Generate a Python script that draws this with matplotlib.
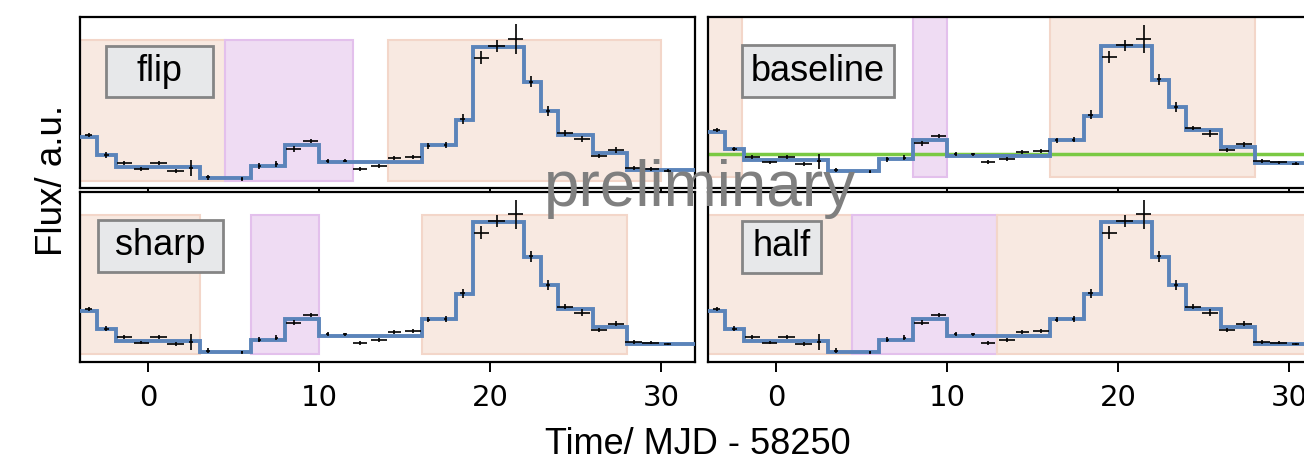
import numpy as np
import matplotlib
matplotlib.use('Agg')
import matplotlib.pyplot as plt
from matplotlib.patches import Rectangle

# light curve (days since MJD 58250, arbitrary flux units)
t_days = [-3.5, -2.45, -1.4, -0.4, 0.6, 1.6, 2.5, 3.5, 5.5, 6.5, 7.5, 8.5,
          9.5, 10.5, 11.5, 12.4, 13.5, 14.4, 15.5, 16.4, 17.4, 18.4, 19.5,
          20.4, 21.5, 22.4, 23.4, 24.4, 25.4, 26.4, 27.4, 28.4, 29.4, 30.4]
flux = [3.10, 1.93, 1.44, 1.11, 1.46, 1.01, 1.17, 0.63, 0.53, 1.29, 1.40, 2.28,
        2.75, 1.60, 1.60, 1.11, 1.29, 1.75, 1.81, 2.46, 2.51, 4.04, 7.62,
        8.32, 8.71, 6.22, 4.50, 3.22, 2.87, 1.87, 2.22, 1.17, 1.11, 1.02]
flux_err = [0.12, 0.15, 0.12, 0.10, 0.12, 0.12, 0.47, 0.15, 0.10, 0.16, 0.16, 0.15,
            0.12, 0.12, 0.10, 0.12, 0.12, 0.12, 0.12, 0.16, 0.16, 0.27, 0.37,
            0.35, 0.86, 0.34, 0.30, 0.15, 0.20, 0.12, 0.15, 0.12, 0.10, 0.08]
t_err = [0.2, 0.15, 0.42, 0.46, 0.5, 0.5, 0.1, 0.1, 0.05, 0.1, 0.1, 0.46,
         0.46, 0.1, 0.1, 0.4, 0.45, 0.4, 0.45, 0.1, 0.1, 0.15, 0.45,
         0.5, 0.45, 0.1, 0.1, 0.45, 0.48, 0.47, 0.47, 0.47, 0.48, 0.2]

# bayesian blocks
block_edges = [-4.5, -3.0, -1.9, 3.0, 6.0, 8.0, 10.0, 16.0, 18.0, 19.0, 22.0,
               23.0, 24.0, 26.0, 28.0, 33.0]
block_flux = [2.98, 1.93, 1.23, 0.58, 1.29, 2.51, 1.52, 2.50, 3.98, 8.25,
              6.20, 4.50, 3.10, 2.05, 1.05]
baseline_level = 1.62

panel_names = ['flip', 'baseline', 'sharp', 'half']
# shaded periods per panel: (start, stop, kind)
flip_spans = [(-4.5, 4.5, 'rise'), (4.5, 12.0, 'fall'), (14.0, 30.0, 'rise')]
baseline_spans = [(-4.5, -2.0, 'rise'), (8.0, 10.0, 'fall'), (16.0, 28.0, 'rise')]
sharp_spans = [(-4.5, 3.0, 'rise'), (6.0, 10.0, 'fall'), (16.0, 28.0, 'rise')]
half_spans = [(-4.5, 4.4, 'rise'), (4.4, 12.9, 'fall'), (12.9, 33.0, 'rise')]

W, H = 1304, 463
fig = plt.figure(figsize=(W / 100, H / 100), dpi=100)

def px_axes(x0, x1, y0, y1):
    return fig.add_axes([x0 / W, 1 - y1 / H, (x1 - x0) / W, (y1 - y0) / H])

ax_flip = px_axes(80, 695, 17, 188)
ax_base = px_axes(708, 1323, 17, 188)
ax_sharp = px_axes(80, 695, 192, 362)
ax_half = px_axes(708, 1323, 192, 362)

axes = [ax_flip, ax_base, ax_sharp, ax_half]
spans = [flip_spans, baseline_spans, sharp_spans, half_spans]
ylims = [(0, 10.0), (-0.48, 10.07), (-0.04, 10.03), (-0.04, 10.03)]
span_y = [(0.41, 8.68), (0.2, 10.5), (0.41, 8.68), (0.41, 8.68)]
boxes = [(0.043, 0.216, 0.534, 0.832), (0.055, 0.302, 0.532, 0.836),
         (0.030, 0.232, 0.531, 0.835), (0.055, 0.183, 0.522, 0.831)]

face = {'rise': '#f8e9e1', 'fall': '#efdcf3'}
edge = {'rise': '#f3d6c9', 'fall': '#e3c0ec'}

for i, ax in enumerate(axes):
    lo, hi = span_y[i]
    for x0, x1, kind in spans[i]:
        ax.add_patch(Rectangle((x0, lo), x1 - x0, hi - lo, facecolor=face[kind],
                               edgecolor=edge[kind], lw=1.5, zorder=1))
    if panel_names[i] == 'baseline':
        ax.axhline(baseline_level, color='#7ac943', lw=2.5, zorder=2)
    ax.stairs(block_flux, block_edges, baseline=None, color='#5b84ba', lw=2.8, zorder=3)
    ax.errorbar(t_days, flux, yerr=flux_err, xerr=t_err, fmt='none', ecolor='k',
                elinewidth=1.2, zorder=4)
    ax.set_xlim(-4, 32)
    ax.set_ylim(*ylims[i])
    ax.set_yticks([])
    ax.set_xticks([0, 10, 20, 30])
    ax.tick_params(axis='x', length=7, width=1.4, pad=9, labelsize=21)
    if i < 2:
        ax.tick_params(axis='x', labelbottom=False)
    for s in ax.spines.values():
        s.set_linewidth(1.6)
    bx0, bx1, by0, by1 = boxes[i]
    ax.add_patch(Rectangle((bx0, by0), bx1 - bx0, by1 - by0, transform=ax.transAxes,
                           facecolor='#e7e8ea', edgecolor='#858585', lw=2, zorder=5))
    ax.text((bx0 + bx1) / 2, (by0 + by1) / 2, panel_names[i], transform=ax.transAxes,
            ha='center', va='center', fontsize=26, family='Liberation Sans', zorder=6)

fig.text(698 / W, 1 - 444 / H, 'Time/ MJD - 58250', ha='center', va='center',
         fontsize=26, family='Liberation Sans')
fig.text(53 / W, 1 - 180 / H, 'Flux/ a.u.', ha='center', va='center', rotation=90,
         fontsize=26.5, family='Liberation Sans')
fig.text(700 / W, 1 - 189 / H, 'preliminary', ha='center', va='center',
         fontsize=46, family='Liberation Sans', color='#7f7f7f', zorder=10)

fig.savefig('out.png', dpi=100)
